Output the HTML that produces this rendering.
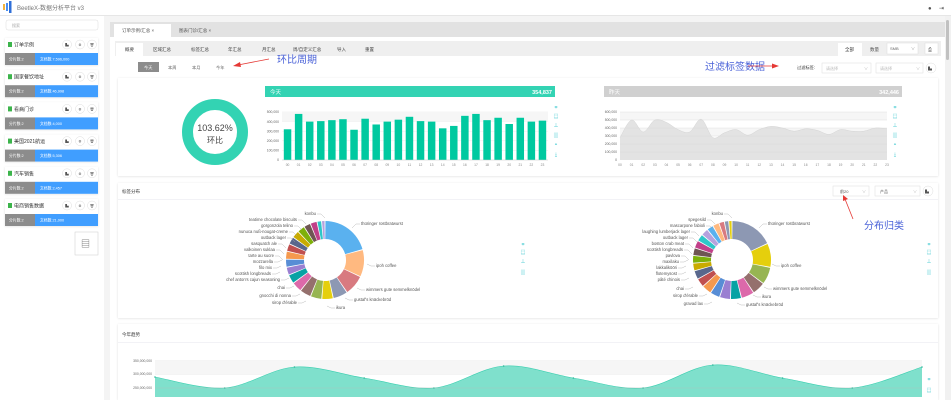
<!DOCTYPE html>
<html><head><meta charset="utf-8"><style>
html,body{margin:0;padding:0;width:951px;height:400px;overflow:hidden;background:#fff}
svg{display:block}
text{font-family:"Liberation Sans","Noto Sans CJK SC",sans-serif}
</style></head><body>
<svg id="s" width="951" height="400" viewBox="0 0 951 400" xmlns="http://www.w3.org/2000/svg">
<defs><filter id="sh" x="-5%" y="-5%" width="110%" height="115%"><feDropShadow dx="0" dy="0.5" stdDeviation="1" flood-color="#000" flood-opacity="0.12"/></filter></defs>
<rect width="951" height="400" fill="#fff"/>
<!-- header -->
<rect width="951" height="15" fill="#fff"/>
<rect y="15" width="951" height="1" fill="#e6e6e6"/>
<rect x="3" y="4" width="2" height="6" fill="#f3b23a"/><rect x="6" y="3" width="2" height="8" fill="#4a8ff0"/><rect x="9" y="1" width="2.5" height="12" fill="#2f6fd8"/>
<text x="17" y="10" font-size="6" fill="#777">BeetleX-数据分析平台 v3</text>
<text x="928" y="10" font-size="6" fill="#555">●</text><text x="939" y="10" font-size="6" fill="#555">⇥</text>
<!-- sidebar -->
<rect x="6" y="20" width="92" height="10" rx="2" fill="#fff" stroke="#ddd" stroke-width="0.5"/>
<text x="12" y="27" font-size="4" fill="#aaa">搜索</text>
<g id="side"></g>
<rect x="75" y="232" width="23" height="23" fill="#fff" stroke="#ccc" stroke-width="0.5"/>
<text x="81" y="247" font-size="9" fill="#666">▤</text>
<!-- main -->
<rect x="104" y="16" width="847" height="384" fill="#f4f4f4"/>
<rect x="110" y="22" width="836" height="378" fill="#fff"/>
<rect x="110" y="22" width="836" height="15" fill="#e2e2e2"/>
<rect x="114" y="24" width="57" height="13" fill="#fff"/>
<text x="122" y="32" font-size="4.5" fill="#555">订单示例/汇总 ×</text>
<text x="179" y="32" font-size="4.5" fill="#555">图表门诊/汇总 ×</text>
<rect x="115" y="41" width="826" height="15" fill="#efefef"/>
<rect x="116" y="43" width="27" height="13" fill="#fff"/>
<g font-size="4.5" fill="#444"><text x="125" y="51">概要</text><text x="153" y="51">区域汇总</text><text x="191" y="51">标签汇总</text><text x="228" y="51">年汇总</text><text x="262" y="51">月汇总</text><text x="293" y="51">周/自定义汇总</text><text x="337" y="51">导入</text><text x="365" y="51">重置</text></g>
<rect x="838" y="43" width="24" height="13" fill="#fff"/>
<text x="845" y="51" font-size="4.5" fill="#333">全部</text><text x="870" y="51" font-size="4.5" fill="#555">数量</text>
<rect x="887" y="43" width="31" height="11" fill="#fff" stroke="#ddd" stroke-width="0.5"/><text x="890" y="50" font-size="4" fill="#666">SMB</text><text x="911" y="50" font-size="4" fill="#999">∨</text>
<rect x="925" y="43" width="13" height="11" fill="#fff" stroke="#ddd" stroke-width="0.5"/><text x="928" y="51" font-size="5" fill="#555">⎙</text>
<rect x="138" y="62" width="21" height="10" fill="#8c8c8c"/>
<g font-size="4.2" fill="#666"><text x="144" y="69" fill="#fff">今天</text><text x="168" y="69">本周</text><text x="192" y="69">本月</text><text x="216" y="69">今年</text></g>
<text x="797" y="69" font-size="4.2" fill="#333">过滤标签:</text>
<rect x="822" y="63" width="49" height="10" fill="#fff" stroke="#ddd" stroke-width="0.5"/><text x="826" y="70" font-size="4" fill="#bbb">请选择</text><text x="864" y="70" font-size="4" fill="#bbb">∨</text>
<rect x="876" y="63" width="47" height="10" fill="#fff" stroke="#ddd" stroke-width="0.5"/><text x="880" y="70" font-size="4" fill="#bbb">请选择</text><text x="916" y="70" font-size="4" fill="#bbb">∨</text>
<circle cx="931" cy="68" r="5" fill="#fff" stroke="#ddd" stroke-width="0.5"/><text x="928" y="70" font-size="4" fill="#555">▙</text>
<!-- cards -->
<rect x="118" y="78" width="820" height="98" fill="#fff" filter="url(#sh)"/>
<rect x="118" y="183" width="820" height="135" fill="#fff" filter="url(#sh)"/>
<rect x="118" y="324" width="820" height="76" fill="#fff" filter="url(#sh)"/>
<rect x="118" y="199" width="820" height="0.6" fill="#e8e8ef"/>
<rect x="118" y="342" width="820" height="0.6" fill="#e8e8ef"/>
<text x="122" y="193" font-size="4.5" fill="#333">标签分布</text>
<text x="122" y="336" font-size="4.5" fill="#333">今年趋势</text>
<rect x="833" y="186" width="36" height="10" fill="#fff" stroke="#ddd" stroke-width="0.5"/><text x="840" y="193" font-size="4" fill="#555">前20</text><text x="862" y="193" font-size="4" fill="#bbb">∨</text>
<rect x="875" y="186" width="45" height="10" fill="#fff" stroke="#ddd" stroke-width="0.5"/><text x="880" y="193" font-size="4" fill="#555">产品</text><text x="913" y="193" font-size="4" fill="#bbb">∨</text>
<circle cx="928" cy="191" r="5" fill="#fff" stroke="#ddd" stroke-width="0.5"/><text x="925" y="193" font-size="4" fill="#555">▙</text>
<!-- donut -->
<circle cx="215" cy="132" r="27.5" fill="none" stroke="#33d3b3" stroke-width="11"/>
<text x="215" y="131" font-size="9" fill="#444" text-anchor="middle">103.62%</text>
<text x="215" y="143" font-size="8" fill="#444" text-anchor="middle">环比</text>
<rect x="265" y="86" width="290" height="11" fill="#33d3b3"/>
<text x="270" y="94" font-size="5.5" fill="#fff">今天</text><text x="552" y="94" font-size="5.5" fill="#fff" text-anchor="end" font-weight="bold">354,837</text>
<rect x="604" y="86" width="298" height="11" fill="#d0d0d0"/>
<text x="609" y="94" font-size="5.5" fill="#fff">昨天</text><text x="899" y="94" font-size="5.5" fill="#fff" text-anchor="end" font-weight="bold">342,446</text>
<g id="charts"></g>
<!-- annotations -->
<g fill="#4a62d8" font-size="10"><text x="277" y="63">环比周期</text><text x="705" y="70">过滤标签数据</text><text x="864" y="229">分布归类</text></g>
<g stroke="#e53935" stroke-width="0.8" fill="#e53935">
<line x1="269" y1="59" x2="238" y2="65"/><polygon points="233,66 240,62 241,67" stroke="none"/>
<line x1="748" y1="66" x2="774" y2="66"/><polygon points="779,66 772,63.5 772,68.5" stroke="none"/>
<line x1="853" y1="219" x2="845" y2="199"/><polygon points="843,195 843,201 848,199" stroke="none"/>
</g>
<!-- scrollbar -->
<rect x="945" y="16" width="6" height="384" fill="#f1f1f1"/><rect x="946" y="20" width="3" height="40" rx="1.5" fill="#c1c1c1"/>
</svg>
<script>
var S=document.getElementById('charts'),NS='http://www.w3.org/2000/svg',h='';
function T(x,y,t,o){o=o||{};return '<text x="'+x+'" y="'+y+'" font-size="'+(o.fs||3.6)+'" fill="'+(o.c||'#666')+'"'+(o.a?' text-anchor="'+o.a+'"':'')+'>'+t+'</text>';}
// sidebar
var side=[["订单示例","分片数:2","文档数:7,596,000"],["国家餐饮地址","分片数:2","文档数:46,998"],["看病门诊","分片数:2","文档数:4,000"],["美国2021航运","分片数:2","文档数:5,306"],["汽车销售","分片数:2","文档数:2,457"],["电商销售数据","分片数:2","文档数:21,000"]];
var sh='';side.forEach(function(s,i){var y=38+i*32.2;
sh+='<rect x="5" y="'+y+'" width="93" height="27" fill="#fff" filter="url(#sh)"/>';
sh+='<rect x="8" y="'+(y+4)+'" width="4" height="5" fill="#3cb44b"/>'+T(14,y+8.5,s[0],{fs:5,c:'#333'});
[67,80,92].forEach(function(cx,k){sh+='<circle cx="'+cx+'" cy="'+(y+6.5)+'" r="4.5" fill="#fff" stroke="#ddd" stroke-width="0.5"/>'+T(cx,y+8,['▙','⚙','🗑'][k],{fs:3.5,c:'#555',a:'middle'});});
sh+='<rect x="5" y="'+(y+15)+'" width="30" height="12" fill="#8c8c8c"/><rect x="35" y="'+(y+15)+'" width="63" height="12" fill="#409eff"/>';
sh+=T(9,y+22.5,s[1],{fs:3.8,c:'#fff'})+T(40,y+22.5,s[2],{fs:3.8,c:'#fff'});});
document.getElementById('side').innerHTML=sh;
// bar chart
var bars=[320,480,400,405,415,425,315,430,370,400,420,450,405,400,330,355,460,480,415,440,375,440,400,410];
var x0=282,x1=548,yb=160,yt=112,st=(x1-x0)/24;
for(var i=0;i<=5;i++){var y=yb-(yb-yt)*i/5;h+='<line x1="'+x0+'" x2="'+x1+'" y1="'+y+'" y2="'+y+'" stroke="#e4e4e4" stroke-width="0.4"/>'+T(x0-3,y+1.2,i?(i*100)+',000':'0',{a:'end',fs:3.4});}
h+='<rect x="'+x0+'" y="'+yt+'" width="'+(x1-x0)+'" height="'+((yb-yt)/5)+'" fill="#f6f6f6"/>';
bars.forEach(function(v,i){var bh=v/500*(yb-yt);h+='<rect x="'+(x0+i*st+1.8)+'" y="'+(yb-bh)+'" width="'+(st-3.6)+'" height="'+bh+'" fill="#00c9a0"/>';h+=T(x0+i*st+st/2,166,(i<10?'0':'')+i,{a:'middle',fs:3.3,c:'#888'});});
h+='<line x1="'+x0+'" x2="'+x1+'" y1="160" y2="160" stroke="#ccc" stroke-width="0.5"/>';
function icons(x,ys){ys.forEach(function(y,k){h+=T(x,y,['⌗','▤','⊥','▥','◓','⤓'][k%6],{fs:5,c:'#3fc8d0',a:'middle'});});}
icons(556,[109,118,127,137,146,156]);icons(895,[109,118,127,137,146,156]);
// area chart
var ar=[280,500,350,500,470,380,350,510,280,340,380,310,380,420,400,360,390,370,320,380,360,360,400,390];
var a0=620,a1=887,ayb=160,ayt=112,ast=(a1-a0)/23;
for(var i=0;i<=6;i++){var y=ayb-(ayb-ayt)*i/6;h+=T(a0-3,y+1.2,i?(i*100)+',000':'0',{a:'end',fs:3.4});}
h+='<rect x="'+a0+'" y="'+ayt+'" width="'+(a1-a0)+'" height="8" fill="#f6f6f6"/><rect x="'+a0+'" y="'+(ayt+16)+'" width="'+(a1-a0)+'" height="8" fill="#f6f6f6"/>';
function smooth(pts){var d='M'+pts[0][0]+','+pts[0][1];for(var i=0;i<pts.length-1;i++){var p0=pts[i-1]||pts[i],p1=pts[i],p2=pts[i+1],p3=pts[i+2]||p2;d+=' C'+(p1[0]+(p2[0]-p0[0])/6)+','+(p1[1]+(p2[1]-p0[1])/6)+' '+(p2[0]-(p3[0]-p1[0])/6)+','+(p2[1]-(p3[1]-p1[1])/6)+' '+p2[0]+','+p2[1];}return d;}
var ap=ar.map(function(v,i){return [a0+i*ast,ayb-v/600*(ayb-ayt)];});
h+='<path d="'+smooth(ap)+' L'+a1+','+ayb+' L'+a0+','+ayb+'Z" fill="#e3e3e3"/><path d="'+smooth(ap)+'" fill="none" stroke="#d4d4d4" stroke-width="0.5"/>';
for(var i=1;i<=6;i++){var y=ayb-(ayb-ayt)*i/6;h+='<line x1="'+a0+'" x2="'+a1+'" y1="'+y+'" y2="'+y+'" stroke="#d8d8d8" stroke-width="0.4"/>';}
ar.forEach(function(v,i){h+=T(a0+i*ast,166,(i<10?'0':'')+i,{a:'middle',fs:3.3,c:'#888'});});
// pies
var C=['#2ec7c9','#b6a2de','#5ab1ef','#ffb980','#d87a80','#8d98b3','#e5cf0d','#97b552','#95706d','#dc69aa','#07a2a4','#9a7fd1','#588dd5','#f5994e','#c05050','#59678c','#c9ab00','#7eb00a','#6f5553','#c14089'];
function pie(cx,cy,vals,c0){var tot=vals.reduce(function(a,b){return a+b},0),a=-Math.PI/2,R=39,r=21;
vals.forEach(function(v,i){var b=a+v/tot*2*Math.PI,g=0.012;var aa=a+g,bb=b-g;
function P(rr,t){return (cx+rr*Math.cos(t)).toFixed(2)+','+(cy+rr*Math.sin(t)).toFixed(2);}
var lg=(bb-aa)>Math.PI?1:0;
h+='<path d="M'+P(R,aa)+' A'+R+','+R+' 0 '+lg+' 1 '+P(R,bb)+' L'+P(r,bb)+' A'+r+','+r+' 0 '+lg+' 0 '+P(r,aa)+'Z" fill="'+C[(c0+i)%20]+'"/>';a=b;});}
pie(325,260,[22,12,9,6.5,5,5,5,4.5,4,3.5,3.5,3.5,3.3,3.3,3.3,3.3,3,3,2,1.5],2);
pie(732,260,[20,11,8,6,6,5,5,4.5,4.5,4,4,3.5,3.5,3.5,3.5,3.3,3.3,3,3,2.5,2,1.5],5);
function labs(list,cx,cy){list.forEach(function(l){var x=l[0],y=l[1],t=l[2],right=l[3];
var col=l[4]||'#aaa';if(right){h+='<polyline points="'+(x-1)+','+(y-1)+' '+(x-5)+','+(y-1)+' '+(x-9)+','+(y+ (cy>y?3:-3))+'" fill="none" stroke="'+col+'" stroke-width="0.4"/>'+T(x,y,t,{fs:4.2,c:'#555'});}
else{h+='<polyline points="'+(x+1)+','+(y-1)+' '+(x+5)+','+(y-1)+' '+(x+9)+','+(y+(cy>y?3:-3))+'" fill="none" stroke="'+col+'" stroke-width="0.4"/>'+T(x,y,t,{fs:4.2,c:'#555',a:'end'});}});}
labs([[316,215,'konbu'],[297,221,'teatime chocolate biscuits'],[293,227,'gorgonzola telino'],[288,233,'nunuca nuß-nougat-creme'],[286,239,'outback lager'],[277,245,'sasquatch ale'],[275,251,'valkoinen suklaa'],[274,257,'tarte au sucre'],[273,263,'mozzarella'],[272,269,'tofu'.replace('tofu','filo mix')],[271,275,'scottish longbreads'],[280,281,"chef anton's cajun seasoning"],[285,289,'chai'],[291,297,'gnocchi di nonna'],[297,304,"sirop d'érable"],[361,225,'thüringer rostbratwurst',1],[376,267,'ipoh coffee',1],[366,291,'wimmers gute semmelknödel',1],[354,301,"gustaf's knäckebröd",1],[336,309,'ikura',1]],325,260);
labs([[723,215,'konbu'],[706,221,'spegesild'],[705,227,'mascarpone fabioli'],[690,233,'laughing lumberjack lager'],[688,239,'outback lager'],[684,245,'boston crab meat'],[683,251,'scottish longbreads'],[680,257,'pavlova'],[679,263,'maxilaku'],[677,269,'lakkalikööri'],[677,275,'flotemysost'],[680,281,'pâté chinois'],[684,290,'chai'],[698,297,"sirop d'érable"],[703,305,'gravad lax'],[768,225,'thüringer rostbratwurst',1],[781,267,'ipoh coffee',1],[773,290,'wimmers gute semmelknödel',1],[762,298,'ikura',1],[746,306,"gustaf's knäckebröd",1]],732,260);
icons(523,[246,254,263,274]);icons(929,[246,254,263,274]);
// bottom trend
var b0=155,b1=922,bs=(b1-b0)/11,by=[377,388,367,378,388,366,378,388,365,378,388,367];
[[361,'350,000,000'],[374,'300,000,000'],[388,'250,000,000']].forEach(function(g){h+='<line x1="'+b0+'" x2="'+b1+'" y1="'+g[0]+'" y2="'+g[0]+'" stroke="#ccc" stroke-width="0.4"/>'+T(b0-3,g[0]+1.2,g[1],{a:'end',fs:3.4});});
h+='<rect x="'+b0+'" y="361" width="'+(b1-b0)+'" height="13" fill="#f6f6f6"/>';
var bp=by.map(function(v,i){return [b0+i*bs,v];});
h+='<path d="'+smooth(bp)+' L'+b1+',397 L'+b0+',397Z" fill="#7fe0cc"/><path d="'+smooth(bp)+'" fill="none" stroke="#3ccfb0" stroke-width="0.6"/>';
bp.forEach(function(p){h+='<circle cx="'+p[0]+'" cy="'+p[1]+'" r="0.8" fill="#2eb89a"/>';});
h+='<line x1="'+b0+'" x2="'+b1+'" y1="388" y2="388" stroke="#bbb" stroke-width="0.3" stroke-dasharray="0"/>';
icons(929,[381,392]);
S.innerHTML=h;
</script>
</body></html>
